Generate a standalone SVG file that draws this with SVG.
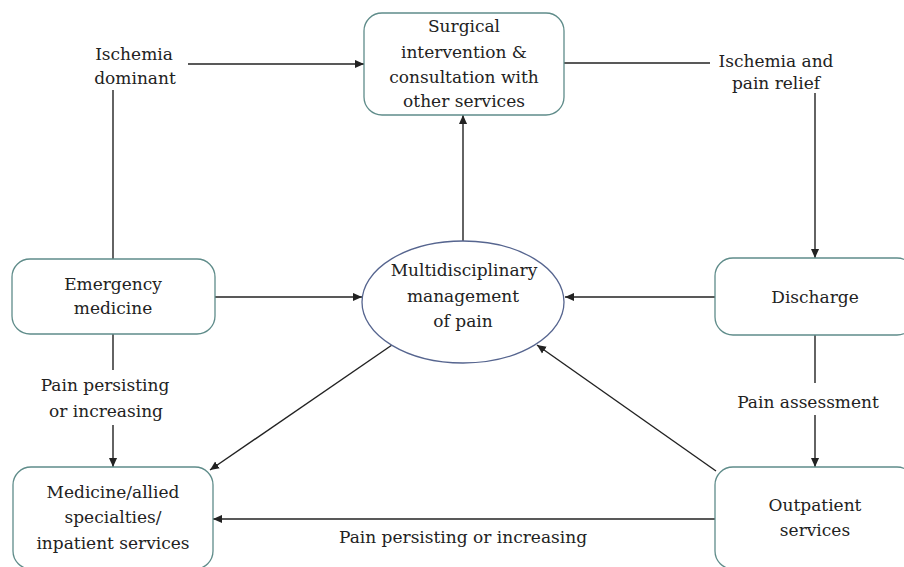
<svg xmlns="http://www.w3.org/2000/svg" width="904" height="567" viewBox="0 0 904 567">
<defs>
<style>
.box{fill:#fff;stroke:#5f8c8a;stroke-width:1.3}
.ell{fill:#fff;stroke:#56658f;stroke-width:1.3}
.ln{fill:none;stroke:#222;stroke-width:1.4}
.arr{marker-end:url(#ah)}
.t{font-family:"DejaVu Serif",serif;font-size:17px;fill:#222;text-anchor:middle}
</style>
<marker id="ah" viewBox="0 0 10 10" refX="10" refY="5" markerWidth="9" markerHeight="9" markerUnits="userSpaceOnUse" orient="auto">
<path d="M0,0.5 L10,5 L0,9.5 Z" fill="#222"/>
</marker>
</defs>
<rect width="904" height="567" fill="#fff"/>
<g id="connectors">
<line class="ln arr" x1="188" y1="64" x2="364" y2="64"/>
<line class="ln" x1="113" y1="90" x2="113" y2="259"/>
<line class="ln" x1="564" y1="63" x2="710" y2="63"/>
<line class="ln arr" x1="815" y1="93" x2="815" y2="258"/>
<line class="ln arr" x1="463" y1="241" x2="463" y2="115"/>
<line class="ln arr" x1="215" y1="297" x2="362" y2="297"/>
<line class="ln arr" x1="715" y1="297" x2="565" y2="297"/>
<line class="ln" x1="113" y1="334" x2="113" y2="370"/>
<line class="ln arr" x1="113" y1="425" x2="113" y2="467"/>
<line class="ln" x1="815" y1="335" x2="815" y2="383"/>
<line class="ln arr" x1="815" y1="415" x2="815" y2="467"/>
<line class="ln arr" x1="392" y1="345" x2="210" y2="470"/>
<line class="ln arr" x1="716" y1="471" x2="537" y2="345"/>
<line class="ln arr" x1="715" y1="519" x2="213" y2="519"/>
<text class="t" x="134" y="60">Ischemia</text>
<text class="t" x="135" y="84">dominant</text>
<text class="t" x="776" y="67">Ischemia and</text>
<text class="t" x="776" y="89">pain relief</text>
<text class="t" x="105" y="391">Pain persisting</text>
<text class="t" x="106" y="417">or increasing</text>
<text class="t" x="808" y="408">Pain assessment</text>
<text class="t" x="463" y="543">Pain persisting or increasing</text>
</g>
<g id="surgical">
<rect class="box" x="364" y="13" width="200" height="102" rx="18"/>
<text class="t" x="464" y="32">Surgical</text>
<text class="t" x="464" y="58">intervention &amp;</text>
<text class="t" x="464" y="83">consultation with</text>
<text class="t" x="464" y="107">other services</text>
</g>
<g id="emergency">
<rect class="box" x="12" y="259" width="203" height="75" rx="18"/>
<text class="t" x="113" y="290">Emergency</text>
<text class="t" x="113" y="314">medicine</text>
</g>
<g id="multidisciplinary">
<ellipse class="ell" cx="463" cy="302" rx="101" ry="61"/>
<text class="t" x="464" y="276">Multidisciplinary</text>
<text class="t" x="463" y="302">management</text>
<text class="t" x="463" y="327">of pain</text>
</g>
<g id="discharge">
<rect class="box" x="715" y="258" width="200" height="77" rx="18"/>
<text class="t" x="815" y="303">Discharge</text>
</g>
<g id="medicine">
<rect class="box" x="13" y="467" width="200" height="102" rx="18"/>
<text class="t" x="113" y="498">Medicine/allied</text>
<text class="t" x="113" y="523">specialties/</text>
<text class="t" x="113" y="549">inpatient services</text>
</g>
<g id="outpatient">
<rect class="box" x="715" y="467" width="200" height="102" rx="18"/>
<text class="t" x="815" y="511">Outpatient</text>
<text class="t" x="815" y="536">services</text>
</g>
</svg>
